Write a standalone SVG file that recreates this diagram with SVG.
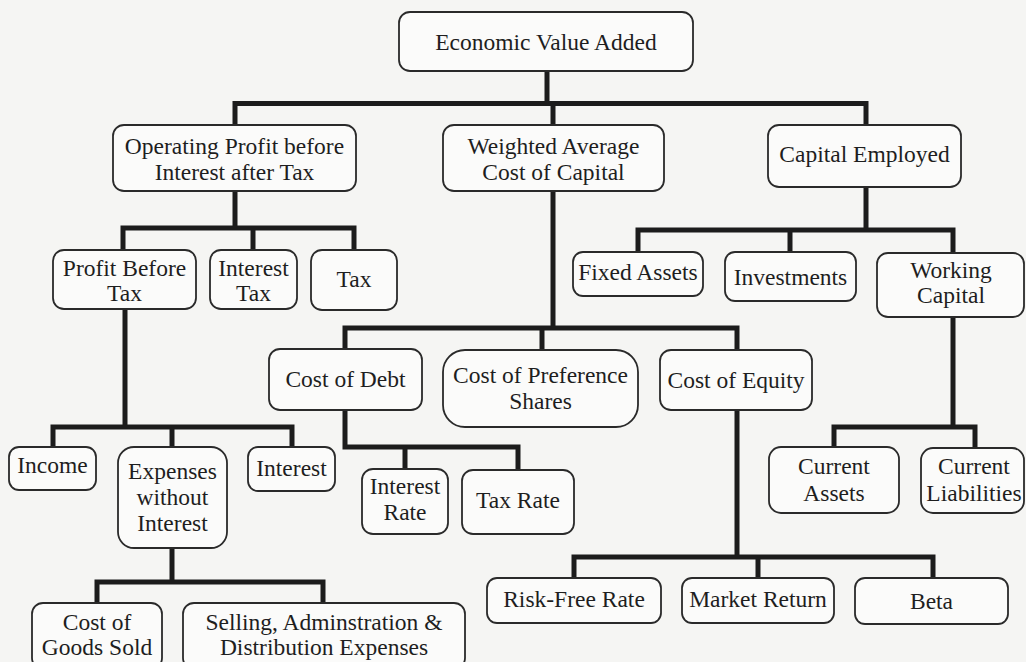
<svg xmlns="http://www.w3.org/2000/svg" width="1026" height="662" viewBox="0 0 1026 662">
<style>
.bg{fill:#f5f5f3}
.box{fill:#fbfbfa;stroke:#2a2a2a;stroke-width:1.8}
.t{font-family:"Liberation Serif","Times New Roman",serif;font-size:23.5px;fill:#1e1e1e;text-anchor:middle}
.c{fill:none;stroke:#1c1c1c;stroke-width:5;stroke-linecap:square;stroke-linejoin:miter}
</style>
<rect class="bg" x="0" y="0" width="1026" height="662"/>
<g id="connectors">
<path class="c" d="M547 71V103.5M235 103.5H866M235 103.5V125M553 103.5V125M866 103.5V125"/>
<path class="c" d="M235 191V228M123 228H354M123 228V250M253 228V250M354 228V250"/>
<path class="c" d="M866 187V230M638 230H953M638 230V252M790 230V252M953 230V252"/>
<path class="c" d="M553 191V328M345 328H737M345 328V349M542 328V350M737 328V350"/>
<path class="c" d="M125 309V427M53 427H292M53 427V447M172 427V447M292 427V447"/>
<path class="c" d="M172 548V582M97 582H323M97 582V603M323 582V603"/>
<path class="c" d="M345 410V447H518M405 447V469M518 447V470"/>
<path class="c" d="M953 317V427M834 427H975M834 427V447M975 427V447"/>
<path class="c" d="M737 410V557M574 557H933M574 557V578M758 557V578M933 557V578"/>
</g>
<g id="eva"><rect class="box" x="399" y="12" width="294" height="59" rx="11"/><text class="t" x="546" y="50">Economic Value Added</text></g>
<g id="opiat"><rect class="box" x="113" y="125" width="243" height="66" rx="11"/><text class="t" x="234.5" y="154">Operating Profit before</text><text class="t" x="234.5" y="180">Interest after Tax</text></g>
<g id="wacc"><rect class="box" x="443" y="125" width="221" height="66" rx="11"/><text class="t" x="553.5" y="154">Weighted Average</text><text class="t" x="553.5" y="180">Cost of Capital</text></g>
<g id="capital-employed"><rect class="box" x="768" y="125" width="193" height="62" rx="11"/><text class="t" x="864.5" y="162">Capital Employed</text></g>
<g id="pbt"><rect class="box" x="53" y="250" width="143" height="59" rx="11"/><text class="t" x="124.5" y="276">Profit Before</text><text class="t" x="124.5" y="301">Tax</text></g>
<g id="interest-tax"><rect class="box" x="210" y="250" width="87" height="59" rx="11"/><text class="t" x="253.5" y="276">Interest</text><text class="t" x="253.5" y="301">Tax</text></g>
<g id="tax"><rect class="box" x="311" y="250" width="86" height="60" rx="11"/><text class="t" x="354" y="287">Tax</text></g>
<g id="fixed-assets"><rect class="box" x="573" y="252" width="130" height="44" rx="10"/><text class="t" x="638" y="280">Fixed Assets</text></g>
<g id="investments"><rect class="box" x="725" y="252" width="131" height="49" rx="10"/><text class="t" x="790.5" y="285">Investments</text></g>
<g id="working-capital"><rect class="box" x="877" y="253" width="147" height="64" rx="11"/><text class="t" x="951" y="278">Working</text><text class="t" x="951" y="303">Capital</text></g>
<g id="cost-of-debt"><rect class="box" x="269" y="349" width="153" height="61" rx="11"/><text class="t" x="345.5" y="387">Cost of Debt</text></g>
<g id="cost-of-preference"><rect class="box" x="443" y="350" width="195" height="77" rx="22"/><text class="t" x="540.5" y="383">Cost of Preference</text><text class="t" x="540.5" y="409">Shares</text></g>
<g id="cost-of-equity"><rect class="box" x="660" y="350" width="152" height="60" rx="11"/><text class="t" x="736" y="388">Cost of Equity</text></g>
<g id="income"><rect class="box" x="9" y="447" width="87" height="43" rx="10"/><text class="t" x="52.5" y="473">Income</text></g>
<g id="expenses"><rect class="box" x="118" y="447" width="109" height="101" rx="16"/><text class="t" x="172.5" y="479">Expenses</text><text class="t" x="172.5" y="505">without</text><text class="t" x="172.5" y="531">Interest</text></g>
<g id="interest"><rect class="box" x="248" y="447" width="87" height="44" rx="10"/><text class="t" x="291.5" y="476">Interest</text></g>
<g id="interest-rate"><rect class="box" x="362" y="469" width="86" height="65" rx="11"/><text class="t" x="405" y="494">Interest</text><text class="t" x="405" y="520">Rate</text></g>
<g id="tax-rate"><rect class="box" x="462" y="470" width="112" height="64" rx="11"/><text class="t" x="518" y="508">Tax Rate</text></g>
<g id="current-assets"><rect class="box" x="769" y="447" width="130" height="66" rx="12"/><text class="t" x="834" y="474">Current</text><text class="t" x="834" y="501">Assets</text></g>
<g id="current-liabilities"><rect class="box" x="921" y="448" width="103" height="65" rx="12"/><text class="t" x="974" y="474">Current</text><text class="t" x="974" y="501">Liabilities</text></g>
<g id="risk-free"><rect class="box" x="487" y="578" width="174" height="45" rx="10"/><text class="t" x="574" y="607">Risk-Free Rate</text></g>
<g id="market-return"><rect class="box" x="682" y="578" width="152" height="45" rx="10"/><text class="t" x="758" y="607">Market Return</text></g>
<g id="beta"><rect class="box" x="855" y="578" width="153" height="46" rx="10"/><text class="t" x="931.5" y="609">Beta</text></g>
<g id="cogs"><rect class="box" x="32" y="603" width="130" height="66" rx="11"/><text class="t" x="97" y="630">Cost of</text><text class="t" x="97" y="655">Goods Sold</text></g>
<g id="selling"><rect class="box" x="183" y="603" width="282" height="66" rx="11"/><text class="t" x="324" y="630">Selling, Adminstration &amp;</text><text class="t" x="324" y="655">Distribution Expenses</text></g>
</svg>
